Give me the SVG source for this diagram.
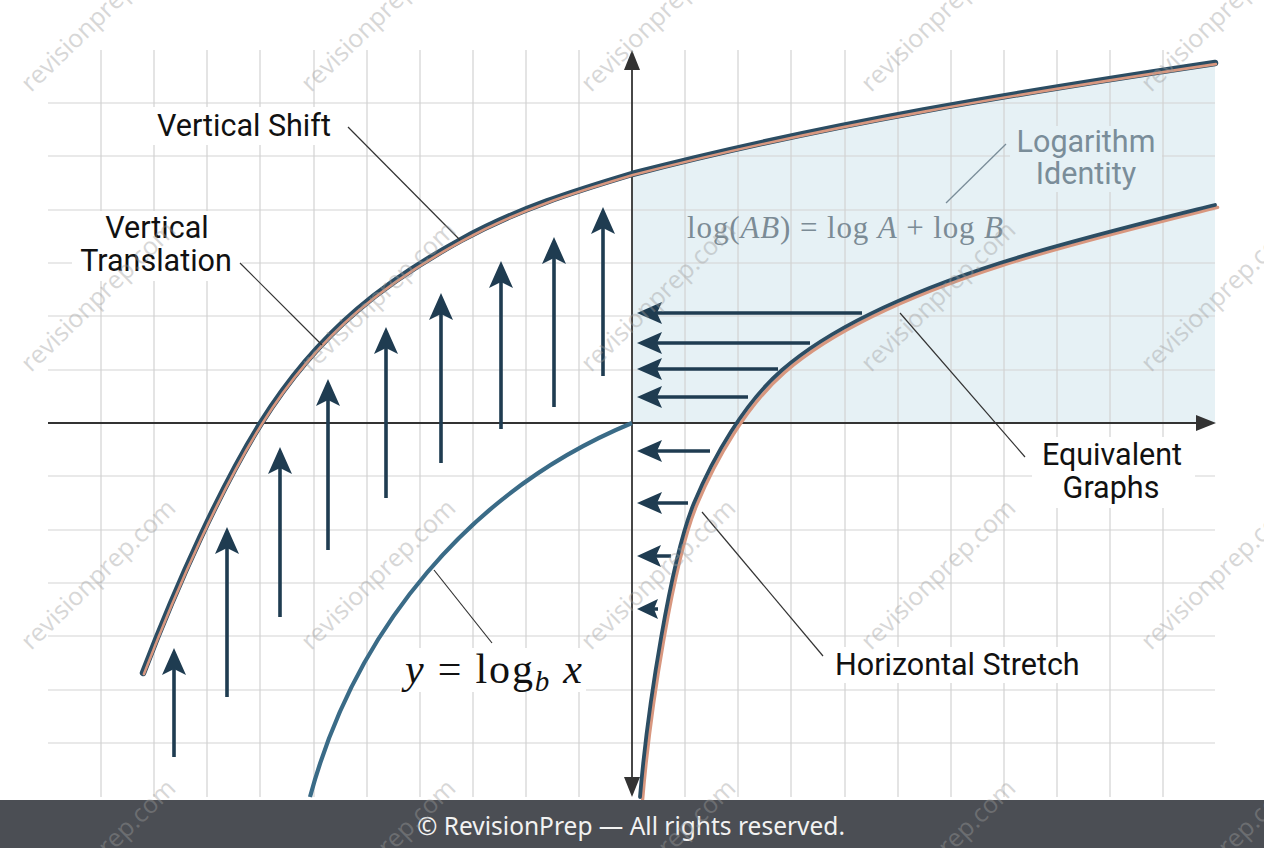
<svg xmlns="http://www.w3.org/2000/svg" width="1264" height="848" viewBox="0 0 1264 848">
<style>
.grid{stroke:#d3d3d3;stroke-width:1.2;fill:none}
.axis{stroke:#333;stroke-width:1.8;fill:none}
.ahead{fill:#333}
.lbl{font-family:Roboto,"Liberation Sans",sans-serif;font-size:30.5px;fill:#111}
.lblg{font-family:Roboto,"Liberation Sans",sans-serif;font-size:30.5px;fill:#7a8d99}
.math{font-family:"Liberation Serif","DejaVu Serif",serif}
.leader{stroke:#333;stroke-width:1.2;fill:none}
.shaft{stroke:#1f3c51;stroke-width:3.6;fill:none}
.head{fill:#1f3c51}
.dark{stroke:#2c4d63;fill:none;stroke-linecap:round}
.salmon{stroke:#d8977f;fill:none;stroke-linecap:round}
.wm{font-family:"Open Sans","Noto Sans",sans-serif;font-size:25px;fill:#9c9c9c;opacity:0.4}
.box{fill:#fff}
</style>
<defs>
<path id="up" d="M143,673 C178,582 221,487 261,423 C321,327 391,278.5 461,240 C518,208.6 575,191.1 632,174 C826,123.6 1021,92.1 1215,63"/>
<path id="rc" d="M640,797 C647.5,707 671,558.4 694,503 C713.3,456.9 744.3,402.8 782,370 C838.6,320.8 928.6,285.9 1000,263 C1066.6,241.6 1147,222 1215,205"/>
</defs>
<rect width="1264" height="848" fill="#fff"/>
<!-- shaded region -->
<path d="M632,174 C826,123.6 1021,92.1 1215,63 L1215,423 L632,423 Z" fill="#e6f1f5"/>
<!-- grid -->
<path class="grid" d="M101 50V797M154 50V797M207 50V797M260 50V797M314 50V797M367 50V797M420 50V797M473 50V797M526 50V797M579 50V797M685 50V797M738 50V797M791 50V797M845 50V797M898 50V797M951 50V797M1004 50V797M1057 50V797M1110 50V797M1163 50V797M48 103H1215M48 156H1215M48 210H1215M48 263H1215M48 316H1215M48 370H1215M48 476H1215M48 530H1215M48 583H1215M48 636H1215M48 690H1215M48 743H1215"/>
<!-- label backgrounds -->
<rect class="box" x="150" y="107" width="190" height="38"/>
<rect class="box" x="72" y="211" width="170" height="70"/>
<rect x="1010" y="126" width="152" height="66" fill="#e6f1f5"/>
<rect class="box" x="1032" y="437" width="163" height="71"/>
<rect class="box" x="828" y="647" width="264" height="36"/>
<rect class="box" x="400" y="648" width="186" height="44"/>
<!-- axes -->
<g id="axes">
<line class="axis" x1="48" y1="423" x2="1200" y2="423"/>
<path class="ahead" d="M1216,423 L1196,415 L1196,431 Z"/>
<line class="axis" x1="632" y1="66" x2="632" y2="782"/>
<path class="ahead" d="M632,50 L624,70 L640,70 Z"/>
<path class="ahead" d="M632,797 L624,777 L640,777 Z"/>
</g>
<!-- curves -->
<g id="curve-shift">
<use href="#up" class="dark" stroke-width="6.5"/>
<use href="#up" class="salmon" stroke-width="2.6" transform="translate(0.9,1.1)"/>
</g>
<g id="curve-log">
<path d="M310,797 C355,630 470,490 632,423" stroke="#3a6b87" stroke-width="4.2" fill="none"/>
</g>
<g id="curve-stretch">
<use href="#rc" class="salmon" stroke-width="3.4" transform="translate(2.6,2.4)"/>
<use href="#rc" class="dark" stroke-width="3.8"/>
</g>
<!-- vertical arrows -->
<g id="up-arrows">
<path class="shaft" d="M174,757V668M227,697V547M280,617V467M328,550V399M386,498V347M441,463V313M501,429V281M554,407V257M603,376V227"/>
<path class="head" d="M174,648l-12,27l12,-6l12,6zM227,527l-12,27l12,-6l12,6zM280,447l-12,27l12,-6l12,6zM328,379l-12,27l12,-6l12,6zM386,327l-12,27l12,-6l12,6zM441,293l-12,27l12,-6l12,6zM501,261l-12,27l12,-6l12,6zM554,237l-12,27l12,-6l12,6zM603,207l-12,27l12,-6l12,6z"/>
</g>
<!-- horizontal arrows -->
<g id="left-arrows">
<path class="shaft" d="M862,313H655M810,343H655M778,369H655M748,397H655M710,451H655M688,503H655M671,556H655M658,609H652"/>
<path class="head" d="M637,313l25,-11l-5,11l5,11zM637,343l25,-11l-5,11l5,11zM637,369l25,-11l-5,11l5,11zM637,397l25,-11l-5,11l5,11zM637,451l25,-11l-5,11l5,11zM637,503l25,-11l-5,11l5,11zM637,556l24,-11l-5,11l5,11zM637,609l21,-10l-4,10l4,10z"/>
</g>
<!-- leader lines -->
<g id="connectors">
<line class="leader" x1="348" y1="127" x2="460" y2="240"/>
<line class="leader" x1="240" y1="263" x2="322" y2="345"/>
<line x1="1006" y1="144" x2="946" y2="203" stroke="#7a8d99" stroke-width="1.3"/>
<line class="leader" x1="900" y1="313" x2="1025" y2="457"/>
<line class="leader" x1="702" y1="512" x2="823" y2="656"/>
<line class="leader" x1="434" y1="570" x2="492" y2="643"/>
</g>
<!-- labels -->
<g id="label-vertical-shift"><text class="lbl" x="157" y="136">Vertical Shift</text></g>
<g id="label-vertical-translation"><text class="lbl" x="157" y="238" text-anchor="middle">Vertical</text><text class="lbl" x="156" y="271" text-anchor="middle">Translation</text></g>
<g id="label-log-identity"><text class="lblg" x="1086" y="152" text-anchor="middle">Logarithm</text><text class="lblg" x="1086" y="184" text-anchor="middle">Identity</text></g>
<g id="label-formula"><text class="math" x="687" y="238" font-size="31" fill="#7b8b95" textLength="316" lengthAdjust="spacing">log(<tspan font-style="italic">AB</tspan>) = log <tspan font-style="italic">A</tspan> + log <tspan font-style="italic">B</tspan></text></g>
<g id="label-equivalent"><text class="lbl" x="1112" y="465" text-anchor="middle">Equivalent</text><text class="lbl" x="1111" y="498" text-anchor="middle">Graphs</text></g>
<g id="label-stretch"><text class="lbl" x="835" y="675">Horizontal Stretch</text></g>
<g id="label-log"><text class="math" x="405" y="683" font-size="42" fill="#111" textLength="177" lengthAdjust="spacing"><tspan font-style="italic">y</tspan> = log<tspan font-style="italic" font-size="29" dy="8">b</tspan><tspan dy="-8"> </tspan><tspan font-style="italic">x</tspan></text></g>
<!-- footer -->
<g id="footer">
<rect x="0" y="800" width="1264" height="48" fill="#4b4e54"/>
<text x="631" y="835" text-anchor="middle" font-family="'Noto Sans','Open Sans',sans-serif" font-size="24.5" fill="#f2f2f2">© RevisionPrep — All rights reserved.</text>
</g>
<!-- watermarks -->
<g id="watermarks">
<text class="wm" transform="translate(31,93) rotate(-44)">revisionprep.com</text>
<text class="wm" transform="translate(311,93) rotate(-44)">revisionprep.com</text>
<text class="wm" transform="translate(591,93) rotate(-44)">revisionprep.com</text>
<text class="wm" transform="translate(871,93) rotate(-44)">revisionprep.com</text>
<text class="wm" transform="translate(1151,93) rotate(-44)">revisionprep.com</text>
<text class="wm" transform="translate(31,373) rotate(-44)">revisionprep.com</text>
<text class="wm" transform="translate(311,373) rotate(-44)">revisionprep.com</text>
<text class="wm" transform="translate(591,373) rotate(-44)">revisionprep.com</text>
<text class="wm" transform="translate(871,373) rotate(-44)">revisionprep.com</text>
<text class="wm" transform="translate(1151,373) rotate(-44)">revisionprep.com</text>
<text class="wm" transform="translate(31,651) rotate(-44)">revisionprep.com</text>
<text class="wm" transform="translate(311,651) rotate(-44)">revisionprep.com</text>
<text class="wm" transform="translate(591,651) rotate(-44)">revisionprep.com</text>
<text class="wm" transform="translate(871,651) rotate(-44)">revisionprep.com</text>
<text class="wm" transform="translate(1151,651) rotate(-44)">revisionprep.com</text>
<text class="wm" transform="translate(31,931) rotate(-44)">revisionprep.com</text>
<text class="wm" transform="translate(311,931) rotate(-44)">revisionprep.com</text>
<text class="wm" transform="translate(591,931) rotate(-44)">revisionprep.com</text>
<text class="wm" transform="translate(871,931) rotate(-44)">revisionprep.com</text>
<text class="wm" transform="translate(1151,931) rotate(-44)">revisionprep.com</text>
</g>
</svg>
